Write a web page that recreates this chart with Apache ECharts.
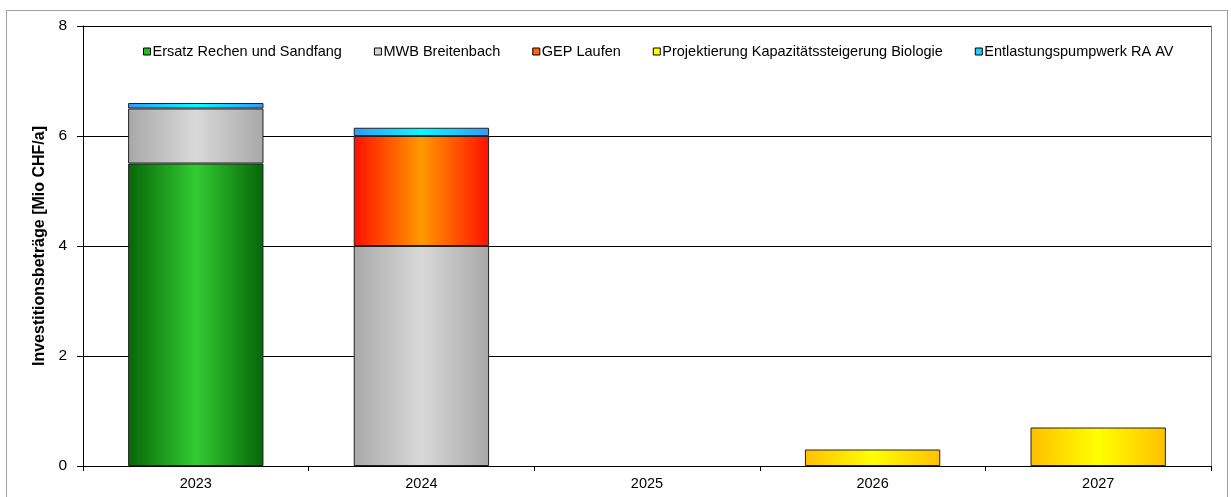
<!DOCTYPE html>
<html>
<head>
<meta charset="utf-8">
<script src="https://cdn.jsdelivr.net/npm/echarts@6/dist/echarts.min.js"></script>
<style>
html,body{margin:0;padding:0;background:#fff;}
#frame{position:absolute;left:6px;top:10px;width:1222px;height:500px;border:1px solid #a0a0a0;box-sizing:border-box;}
#chart{position:absolute;left:0;top:0;width:1231px;height:497px;}
</style>
</head>
<body>
<div id="frame"></div>
<div id="chart"></div>
<script>
const categories = ['2023', '2024', '2025', '2026', '2027'];
const seriesNames = ['Ersatz Rechen und Sandfang', 'MWB Breitenbach', 'GEP Laufen', 'Projektierung Kapazitätssteigerung Biologie', 'Entlastungspumpwerk RA AV'];
const ersatzRechen = [5.5, null, null, null, null];
const mwbBreitenbach = [1.0, 4.0, null, null, null];
const gepLaufen = [null, 2.0, null, null, null];
const projektierungBiologie = [null, null, null, 0.3, 0.7];
const entlastungspumpwerk = [0.1, 0.15, null, null, null];
const yTicks = [0, 2, 4, 6, 8];

const edgeColors = ['#066606', '#a8a8a8', '#ff1000', '#ffc000', '#3399ff'];
const midColors = ['#33cc33', '#d9d9d9', '#ff9900', '#ffff00', '#00ffff'];
const legendColors = ['#22bb22', '#d4d4d4', '#ff6600', '#ffff00', '#22ccff'];
const values = [ersatzRechen, mwbBreitenbach, gepLaufen, projektierungBiologie, entlastungspumpwerk];

function grad(i) {
  return new echarts.graphic.LinearGradient(0, 0, 1, 0, [
    {offset: 0, color: edgeColors[i]},
    {offset: 0.5, color: midColors[i]},
    {offset: 1, color: edgeColors[i]}
  ]);
}

const font = 'Arial, "Liberation Sans", sans-serif';
const chart = echarts.init(document.getElementById('chart'), null, {renderer: 'canvas'});
chart.setOption({
  animation: false,
  textStyle: {fontFamily: font, color: '#000'},
  legend: {
    left: 143, top: 44, padding: 0,
    icon: 'rect', itemWidth: 7, itemHeight: 7, itemGap: 32,
    textStyle: {fontSize: 14.5, fontFamily: font, color: '#000', padding: [0, 0, 0, -3]},
    data: seriesNames.map((n, i) => ({name: n, itemStyle: {color: legendColors[i], borderColor: '#000', borderWidth: 1}}))
  },
  grid: {left: 83, right: 20, top: 26, bottom: 31},
  xAxis: {
    type: 'category', data: categories,
    axisLine: {lineStyle: {color: '#000', width: 1}},
    axisTick: {show: true, length: 5, lineStyle: {color: '#000'}},
    axisLabel: {fontSize: 14.5, color: '#000', fontFamily: font, margin: 10}
  },
  yAxis: [{
    type: 'value', min: yTicks[0], max: yTicks[yTicks.length - 1], interval: 2,
    name: 'Investitionsbeträge [Mio CHF/a]', nameLocation: 'middle', nameGap: 31,
    nameTextStyle: {fontSize: 16, fontWeight: 'bold', color: '#000', fontFamily: font},
    axisLine: {show: true, lineStyle: {color: '#000', width: 1}},
    axisTick: {show: true, length: 6, lineStyle: {color: '#000'}},
    axisLabel: {fontSize: 15.5, color: '#000', fontFamily: font, margin: 16},
    splitLine: {show: true, lineStyle: {color: '#000', width: 1}}
  }, {
    type: 'value', position: 'right', min: 0, max: 8, interval: 2,
    axisLine: {show: true, lineStyle: {color: '#808080', width: 1}},
    axisTick: {show: false}, axisLabel: {show: false}, splitLine: {show: false}
  }],
  series: seriesNames.map((n, i) => ({
    name: n, type: 'bar', stack: 'total', barWidth: '60%', yAxisIndex: 0,
    data: values[i],
    itemStyle: {color: grad(i), borderColor: '#222', borderWidth: 1}
  }))
});
</script>
</body>
</html>
